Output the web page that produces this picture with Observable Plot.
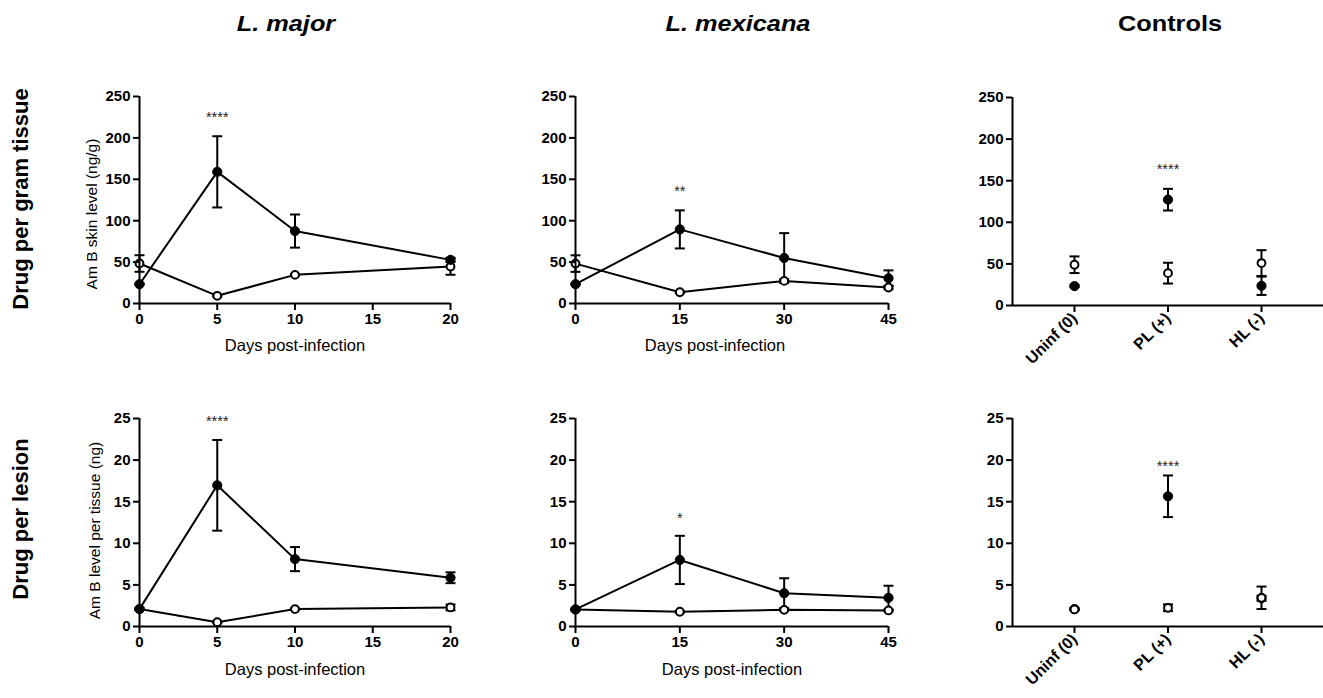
<!DOCTYPE html>
<html>
<head>
<meta charset="utf-8">
<script src="https://cdn.jsdelivr.net/npm/d3@7"></script>
<script src="https://cdn.jsdelivr.net/npm/@observablehq/plot@0.6"></script>
<style>
  body { margin: 0; background: #fff; font-family: "Liberation Sans", Arial, Helvetica, sans-serif; }
  #root { position: relative; width: 1323px; height: 698px; overflow: hidden; background: #fff; }
  .panel { position: absolute; }
  .title { position: absolute; font-weight: bold; font-size: 22px; line-height: 1; white-space: nowrap; color: #000;
           transform: translateX(-50%) scaleX(1.15); }
  .title.it { font-style: italic; }
  .rowlabel { position: absolute; font-weight: bold; font-size: 22px; line-height: 1; white-space: nowrap; color: #000;
              transform: translate(-50%, -50%) rotate(-90deg); }
  .panel svg g[aria-label="y-axis tick label"],
  .panel svg g[aria-label="x-axis tick label"] { font-size: 15px !important; font-weight: bold !important; }
  .panel.cat svg g[aria-label="x-axis tick label"] { font-size: 16px !important; }
  .panel svg g[aria-label="y-axis tick label"] text,
  .panel svg g[aria-label="x-axis tick label"] text { font-size: inherit; }
</style>
</head>
<body>
<div id="root"></div>
<script>
// ---------------- data ----------------
const majorDays = [0, 5, 10, 20];
const mexicanaDays = [0, 15, 30, 45];
const controlGroups = ["Uninf (0)", "PL (+)", "HL (-)"];
const controlIndex = [0, 1, 2];

const majorTicks = [0, 5, 10, 15, 20];
const mexicanaTicks = [0, 15, 30, 45];
const gramTicks = [0, 50, 100, 150, 200, 250];
const lesionTicks = [0, 5, 10, 15, 20, 25];

const columnTitles = ["L. major", "L. mexicana", "Controls"];
const rowTitles = ["Drug per gram tissue", "Drug per lesion"];
const gramAxisLabel = "Am B skin level (ng/g)";
const lesionAxisLabel = "Am B level per tissue (ng)";
const dayAxisLabel = "Days post-infection";

// Drug per gram tissue (ng/g)
const majorGramFilled = [23.3, 159, 87.5, 52.7];
const majorGramFilledErr = [0.5, 43, 20, 2.5];
const majorGramOpen = [48.3, 9.3, 34.6, 44.7];
const majorGramOpenErr = [10, 1, 1, 10];

const mexicanaGramFilled = [23.3, 89.5, 55, 30.5];
const mexicanaGramFilledErr = [0.5, 23, 30, 9.5];
const mexicanaGramOpen = [48.2, 13.6, 27.3, 19.3];
const mexicanaGramOpenErr = [10, 1, 2, 2];

const controlGramFilled = [23.3, 127.2, 23.7];
const controlGramFilledErr = [1, 13, 11];
const controlGramOpen = [49, 38.9, 51];
const controlGramOpenErr = [10, 12.5, 15.5];

// Drug per lesion (ng)
const majorLesionFilled = [2.09, 16.97, 8.1, 5.86];
const majorLesionFilledErr = [0.1, 5.45, 1.45, 0.65];
const majorLesionOpen = [2.1, 0.52, 2.09, 2.29];
const majorLesionOpenErr = [0.1, 0.1, 0.1, 0.35];

const mexicanaLesionFilled = [2.05, 8.0, 4.0, 3.45];
const mexicanaLesionFilledErr = [0.1, 2.9, 1.8, 1.45];
const mexicanaLesionOpen = [2.05, 1.77, 2.0, 1.93];
const mexicanaLesionOpenErr = [0.1, 0.1, 0.1, 0.1];

const controlLesionFilled = [2.1, 15.65, 3.4];
const controlLesionFilledErr = [0.1, 2.5, 0.3];
const controlLesionOpen = [2.05, 2.25, 3.45];
const controlLesionOpenErr = [0.1, 0.4, 1.35];

// significance marks: text, x position, y level (per panel)
const starText = ["****", "**", "****", "****", "*", "****"];
const starX = [5, 15, 1, 5, 15, 1];
const starLevel = [225, 135, 164, 24.7, 13.0, 19.25];

// ---------------- helpers ----------------
const capSymbol = {
  draw(ctx, size) {
    const w = Math.sqrt(size / Math.PI);
    ctx.moveTo(-w, 0);
    ctx.lineTo(w, 0);
  }
};
function records(xs, vals, errs) {
  return xs.map((x, i) => ({x, y: vals[i], lo: vals[i] - errs[i], hi: vals[i] + errs[i]}));
}
const FONT = "'Liberation Sans', Arial, Helvetica, sans-serif";

function makePanel(cfg) {
  const L = cfg.layout;
  const errMarks = s => [
    Plot.ruleX(s, {x: "x", y1: "lo", y2: "hi", stroke: "black", strokeWidth: 2}),
    Plot.dot(s, {x: "x", y: "hi", symbol: capSymbol, r: 5, stroke: "black", strokeWidth: 2, fill: "none"}),
    Plot.dot(s, {x: "x", y: "lo", symbol: capSymbol, r: 5, stroke: "black", strokeWidth: 2, fill: "none"})
  ];
  const filledDots = Plot.dot(cfg.filled, {x: "x", y: "y", r: 4.6, fill: "black", stroke: "black", strokeWidth: 1});
  const openDots = Plot.dot(cfg.open, {x: "x", y: "y", r: 3.9, fill: "white", stroke: "black", strokeWidth: 2});
  const marks = [
    ...errMarks(cfg.filled),
    ...errMarks(cfg.open),
    cfg.connect ? Plot.line(cfg.filled, {x: "x", y: "y", stroke: "black", strokeWidth: 2}) : null,
    cfg.connect ? Plot.line(cfg.open, {x: "x", y: "y", stroke: "black", strokeWidth: 2}) : null,
    ...(cfg.openOnTop ? [filledDots, openDots] : [openDots, filledDots]),
    Plot.ruleY([cfg.yDomain[0]], {stroke: "black", strokeWidth: 2}),
    Plot.ruleX([cfg.xDomain[0]], {stroke: "black", strokeWidth: 2}),
    Plot.axisY({ticks: cfg.yTicks, tickSize: 6, tickPadding: 3, fontSize: 15, fontWeight: "bold",
                strokeWidth: 2, label: null, tickFormat: d => String(d)}),
    cfg.categories
      ? Plot.axisX({ticks: controlIndex, tickFormat: i => cfg.categories[i], tickSize: 7, tickPadding: 3,
                    tickRotate: -45, textAnchor: "end", fontSize: 16, fontWeight: "bold", strokeWidth: 2, label: null})
      : Plot.axisX({ticks: cfg.xTicks, tickSize: 7, tickPadding: 3, fontSize: 15, fontWeight: "bold",
                    strokeWidth: 2, label: null, tickFormat: d => String(d)}),
    Plot.text(cfg.star, {x: "x", y: "y", text: "text", fontSize: 14.5, fill: "#222"}),
    cfg.ylabel ? Plot.text([cfg.ylabel], {frameAnchor: "left", rotate: -90, textAnchor: "middle", lineAnchor: "middle",
                                         dx: cfg.ylabelDx, dy: cfg.ylabelDy, fontSize: 15.5}) : null,
    cfg.xlabel ? Plot.text([cfg.xlabel], {frameAnchor: "bottom", textAnchor: "middle", lineAnchor: "middle",
                                         dx: cfg.xlabelDx, dy: cfg.xlabelDy, fontSize: 16.5}) : null
  ];
  const svg = Plot.plot({
    width: L.w, height: L.h,
    marginLeft: L.mL, marginRight: L.mR, marginTop: L.mT, marginBottom: L.mB,
    x: {type: "linear", domain: cfg.xDomain},
    y: {type: "linear", domain: cfg.yDomain},
    style: {fontFamily: FONT, color: "black", background: "transparent", overflow: "visible"},
    marks
  });
  const div = document.createElement("div");
  div.className = "panel" + (cfg.categories ? " cat" : "");
  div.style.left = L.left + "px";
  div.style.top = L.top + "px";
  div.appendChild(svg);
  document.getElementById("root").appendChild(div);
}

function starRecord(i) { return [{x: starX[i], y: starLevel[i], text: starText[i]}]; }

const layouts = {
  At: {left: 50, top: 60, w: 410, h: 320, mL: 89, mR: 10, mT: 36, mB: 77},
  Bt: {left: 490, top: 60, w: 408, h: 320, mL: 85, mR: 10, mT: 36, mB: 77},
  Ct: {left: 930, top: 60, w: 393, h: 320, mL: 82, mR: 0, mT: 37, mB: 75},
  Ab: {left: 50, top: 380, w: 410, h: 318, mL: 89, mR: 10, mT: 38, mB: 72},
  Bb: {left: 490, top: 380, w: 408, h: 318, mL: 85, mR: 10, mT: 38, mB: 72},
  Cb: {left: 930, top: 380, w: 393, h: 318, mL: 82, mR: 0, mT: 38, mB: 72}
};
const ctrlDomain = [-0.663, 2.663];

makePanel({layout: layouts.At, xDomain: [0, 20], yDomain: [0, 250], xTicks: majorTicks, yTicks: gramTicks,
  filled: records(majorDays, majorGramFilled, majorGramFilledErr),
  open: records(majorDays, majorGramOpen, majorGramOpenErr), connect: true,
  star: starRecord(0), ylabel: gramAxisLabel, ylabelDx: -47.5, ylabelDy: 14,
  xlabel: dayAxisLabel, xlabelDx: 0, xlabelDy: 42});
makePanel({layout: layouts.Bt, xDomain: [0, 45], yDomain: [0, 250], xTicks: mexicanaTicks, yTicks: gramTicks,
  filled: records(mexicanaDays, mexicanaGramFilled, mexicanaGramFilledErr),
  open: records(mexicanaDays, mexicanaGramOpen, mexicanaGramOpenErr), connect: true,
  star: starRecord(1), xlabel: dayAxisLabel, xlabelDx: -17, xlabelDy: 42});
makePanel({layout: layouts.Ct, xDomain: ctrlDomain, yDomain: [0, 250], categories: controlGroups, yTicks: gramTicks,
  filled: records(controlIndex, controlGramFilled, controlGramFilledErr),
  open: records(controlIndex, controlGramOpen, controlGramOpenErr), connect: false, openOnTop: true,
  star: starRecord(2)});
makePanel({layout: layouts.Ab, xDomain: [0, 20], yDomain: [0, 25], xTicks: majorTicks, yTicks: lesionTicks,
  filled: records(majorDays, majorLesionFilled, majorLesionFilledErr),
  open: records(majorDays, majorLesionOpen, majorLesionOpenErr), connect: true,
  star: starRecord(3), ylabel: lesionAxisLabel, ylabelDx: -44, ylabelDy: 8,
  xlabel: dayAxisLabel, xlabelDx: 0, xlabelDy: 43});
makePanel({layout: layouts.Bb, xDomain: [0, 45], yDomain: [0, 25], xTicks: mexicanaTicks, yTicks: lesionTicks,
  filled: records(mexicanaDays, mexicanaLesionFilled, mexicanaLesionFilledErr),
  open: records(mexicanaDays, mexicanaLesionOpen, mexicanaLesionOpenErr), connect: true,
  star: starRecord(4), xlabel: dayAxisLabel, xlabelDx: 0, xlabelDy: 43});
makePanel({layout: layouts.Cb, xDomain: ctrlDomain, yDomain: [0, 25], categories: controlGroups, yTicks: lesionTicks,
  filled: records(controlIndex, controlLesionFilled, controlLesionFilledErr),
  open: records(controlIndex, controlLesionOpen, controlLesionOpenErr), connect: false, openOnTop: true,
  star: starRecord(5)});

// titles
const root = document.getElementById("root");
const titlePos = [286, 738, 1170];
columnTitles.forEach((t, i) => {
  const d = document.createElement("div");
  d.className = "title" + (i < 2 ? " it" : "");
  d.textContent = t;
  d.style.left = titlePos[i] + "px";
  d.style.top = "13px";
  root.appendChild(d);
});
const rowPos = [199, 519];
rowTitles.forEach((t, i) => {
  const d = document.createElement("div");
  d.className = "rowlabel";
  d.textContent = t;
  d.style.left = "21px";
  d.style.top = rowPos[i] + "px";
  root.appendChild(d);
});
</script>
</body>
</html>
